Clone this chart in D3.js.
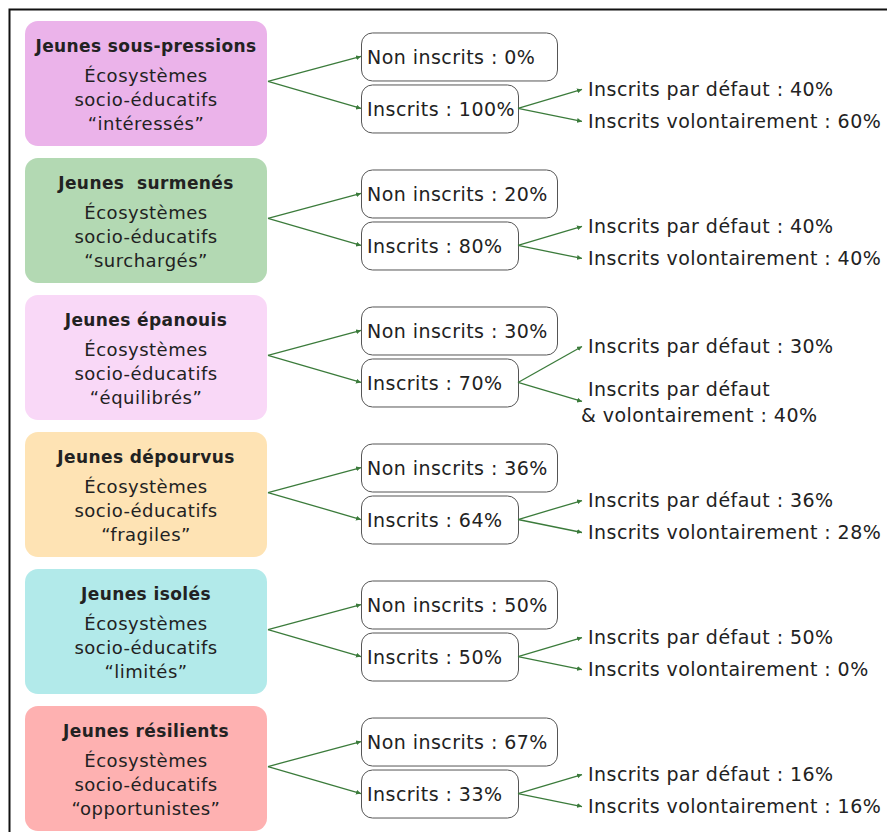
<!DOCTYPE html>
<html>
<head>
  <meta charset="utf-8">
  <title>Écosystèmes socio-éducatifs</title>
  <script src="https://d3js.org/d3.v7.min.js"></script>
  <style>
    body { margin: 0; background: #fff; }
    svg text { font-family: "DejaVu Sans", sans-serif; fill: #222; }
  </style>
</head>
<body>
  <script>
    // profils de jeunes et écosystèmes
    const groups = ['Jeunes sous-pressions', 'Jeunes  surmenés', 'Jeunes épanouis', 'Jeunes dépourvus', 'Jeunes isolés', 'Jeunes résilients'];
    const ecosystems = ['intéressés', 'surchargés', 'équilibrés', 'fragiles', 'limités', 'opportunistes'];
    const fills = ['#ebb3ea', '#b3d9b3', '#f9d8f7', '#fee3b4', '#b2eaea', '#feb1b1'];

    // répartition (%)
    const nonInscrits = [0, 20, 30, 36, 50, 67];
    const inscrits = [100, 80, 70, 64, 50, 33];
    const parDefaut = [40, 40, 30, 36, 50, 16];
    const volontaire = [60, 40, 40, 28, 0, 16];
    const volontaireLabels = [
      ['Inscrits volontairement'],
      ['Inscrits volontairement'],
      ['Inscrits par défaut', '& volontairement'],
      ['Inscrits volontairement'],
      ['Inscrits volontairement'],
      ['Inscrits volontairement'],
    ];

    const W = 887, H = 832;
    const green = '#3b7b3b';

    const svg = d3.select('body').append('svg')
      .attr('width', W)
      .attr('height', H);

    svg.append('defs').append('marker')
      .attr('id', 'head')
      .attr('viewBox', '0 0 10 10')
      .attr('refX', 10).attr('refY', 5)
      .attr('markerWidth', 5).attr('markerHeight', 5)
      .attr('markerUnits', 'userSpaceOnUse')
      .attr('orient', 'auto')
      .append('path')
      .attr('d', 'M0,0L10,5L0,10z')
      .attr('fill', green);

    // cadre
    svg.append('rect')
      .attr('x', 9.5).attr('y', 9.5)
      .attr('width', 1000).attr('height', 1000)
      .attr('fill', 'none')
      .attr('stroke', '#111')
      .attr('stroke-width', 2);

    const rows = d3.range(groups.length).map(i => ({
      i,
      group: groups[i],
      eco: ecosystems[i],
      fill: fills[i],
      non: nonInscrits[i],
      ins: inscrits[i],
      def: parDefaut[i],
      vol: volontaire[i],
      volLabel: volontaireLabels[i],
    }));

    const y = d3.scaleBand()
      .domain(d3.range(groups.length))
      .range([21, 831])
      .paddingInner(0.088);

    const x = d3.scaleOrdinal()
      .domain(['left', 'leftEnd', 'mid', 'insEnd', 'arrowEnd', 'right'])
      .range([25, 267, 361, 518, 582, 588]);

    const boxW = 242, nonW = 196, insW = 157, midH = 48;

    const g = svg.selectAll('g.row')
      .data(rows)
      .enter()
      .append('g')
      .attr('class', 'row')
      .attr('transform', d => `translate(0,${y(d.i) + y.bandwidth() / 2})`);

    // boîte de gauche
    g.append('rect')
      .attr('x', x('left'))
      .attr('y', -y.bandwidth() / 2)
      .attr('width', boxW)
      .attr('height', y.bandwidth())
      .attr('rx', 13)
      .attr('fill', d => d.fill);

    const cx = x('left') + boxW / 2;

    g.append('text')
      .attr('x', cx)
      .attr('y', -37)
      .attr('dy', '0.35em')
      .attr('text-anchor', 'middle')
      .style('white-space', 'pre')
      .attr('font-size', 17)
      .attr('letter-spacing', 0.4)
      .attr('font-weight', 700)
      .text(d => d.group);

    g.selectAll('text.sub')
      .data(d => ['Écosystèmes', 'socio-éducatifs', `“${d.eco}”`])
      .enter()
      .append('text')
      .attr('class', 'sub')
      .attr('x', cx)
      .attr('y', (d, k) => -8 + k * 24)
      .attr('dy', '0.35em')
      .attr('text-anchor', 'middle')
      .attr('font-size', 18)
      .attr('letter-spacing', 0.5)
      .text(d => d);

    // flèches niveau 1
    const src = [x('leftEnd') + 1, -2];
    const nonC = -27, insC = 25;
    g.selectAll('line.l1')
      .data([nonC, insC])
      .enter()
      .append('line')
      .attr('x1', src[0]).attr('y1', src[1])
      .attr('x2', x('mid')).attr('y2', d => d)
      .attr('stroke', green)
      .attr('stroke-width', 1.3)
      .attr('marker-end', 'url(#head)');

    // boîtes du milieu
    g.append('rect')
      .attr('x', x('mid') + 0.5)
      .attr('y', nonC - midH / 2 + 0.5)
      .attr('width', nonW)
      .attr('height', midH)
      .attr('rx', 11)
      .attr('fill', '#fff')
      .attr('stroke', '#555');

    g.append('rect')
      .attr('x', x('mid') + 0.5)
      .attr('y', insC - midH / 2 + 0.5)
      .attr('width', insW)
      .attr('height', midH)
      .attr('rx', 11)
      .attr('fill', '#fff')
      .attr('stroke', '#555');

    const big = sel => sel.attr('font-size', 19).attr('letter-spacing', 0.45);

    g.append('text')
      .attr('x', x('mid') + 6)
      .attr('y', nonC + 1)
      .attr('dy', '0.35em')
      .call(big)
      .text(d => `Non inscrits : ${d.non}%`);

    g.append('text')
      .attr('x', x('mid') + 6)
      .attr('y', insC + 1)
      .attr('dy', '0.35em')
      .call(big)
      .text(d => `Inscrits : ${d.ins}%`);

    // flèches niveau 2
    const sub = d => d.volLabel.length > 1 ? [insC - 36, insC + 19] : [insC - 19, insC + 13];
    g.selectAll('line.l2')
      .data(d => sub(d))
      .enter()
      .append('line')
      .attr('x1', x('insEnd')).attr('y1', insC)
      .attr('x2', x('arrowEnd')).attr('y2', d => d)
      .attr('stroke', green)
      .attr('stroke-width', 1.3)
      .attr('marker-end', 'url(#head)');

    g.append('text')
      .attr('x', x('right'))
      .attr('y', d => sub(d)[0])
      .attr('dy', '0.35em')
      .call(big)
      .text(d => `Inscrits par défaut : ${d.def}%`);

    g.each(function(d) {
      const lines = d.volLabel;
      const yy = sub(d)[1];
      d3.select(this).selectAll('text.vol')
        .data(lines)
        .enter()
        .append('text')
        .attr('class', 'vol')
        .attr('x', (t, k) => k === lines.length - 1 && lines.length > 1 ? x('right') - 7 : x('right'))
        .attr('y', (t, k) => lines.length > 1 ? yy - 12 + k * 26 : yy)
        .attr('dy', '0.35em')
        .call(big)
        .text((t, k) => k === lines.length - 1 ? `${t} : ${d.vol}%` : t);
    });
  </script>
</body>
</html>
